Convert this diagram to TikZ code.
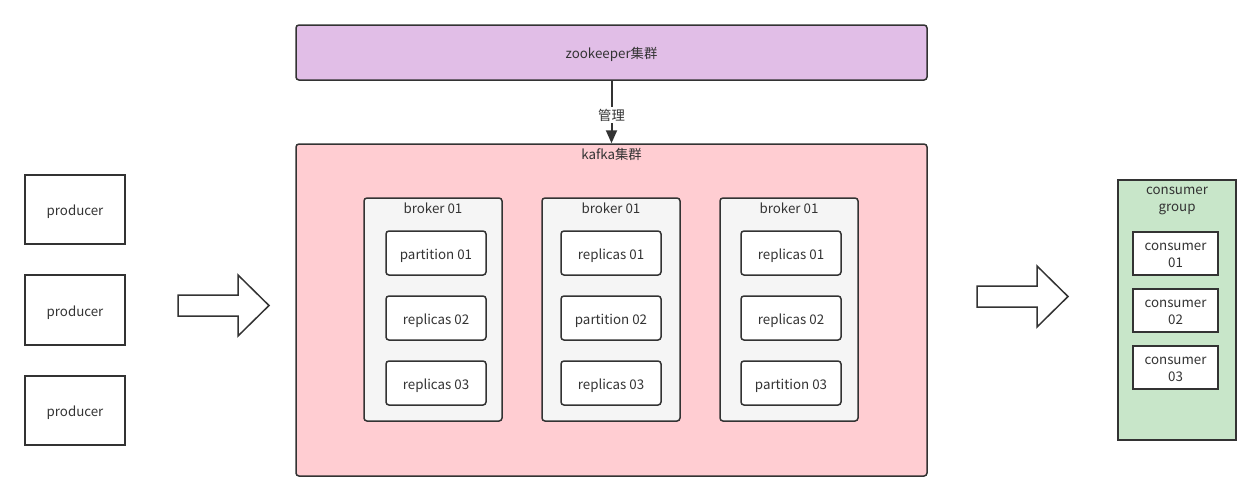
\documentclass[tikz,border=0pt]{standalone}
\usepackage{fontspec}
\setmainfont{Noto Sans CJK SC}
\usetikzlibrary{arrows.meta}
\definecolor{ink}{HTML}{333333}
\definecolor{zk}{HTML}{E1BEE7}
\definecolor{kf}{HTML}{FFCDD2}
\definecolor{bk}{HTML}{F5F5F5}
\definecolor{cg}{HTML}{C8E6C9}
\def\px{0.75pt}
\tikzset{
  box/.style={draw=ink, line width=1.5*\px, inner sep=0pt},
  rbox/.style={box, rounded corners=3*\px},
  sized/.style 2 args={minimum width=#1*\px, minimum height=#2*\px},
  tx/.style={text=ink, font=\fontsize{10}{12.6}\selectfont, inner sep=0pt, align=center},
  blockarrow/.style={draw=ink, line width=1.5*\px, fill=white, line join=miter}
}
\begin{document}
\begin{tikzpicture}[x=\px, y=-\px]
\useasboundingbox (0,0) rectangle (1257,501);
% producers
\node[box, sized={100}{69}] (p1) at (75,209.5) {};
\node[box, sized={100}{70}] (p2) at (75,310) {};
\node[box, sized={100}{69}] (p3) at (75,410.5) {};
\foreach \n in {p1,p2,p3}
  \node[tx] (\n t) at ([yshift=-2.5*\px]\n.center) {producer};
% zookeeper
\node[rbox, fill=zk, sized={631}{55}] (zk) at (611.5,52.5) {};
\node[tx] (zkt) at ([yshift=-2*\px]zk.center) {zookeeper集群};
% kafka
\node[rbox, fill=kf, sized={631}{332}] (kafka) at (611.5,310) {};
\node[tx, anchor=north] (kafkat) at (611.5,147.5) {kafka集群};
\draw[ink, line width=2*\px, -{Triangle[length=13*\px, width=11*\px]}] (zk.south) -- node[pos=0.55, fill=white, tx, inner sep=1.5pt] (mg) {管理} (kafka.north);
% brokers
\foreach \i/\x/\ix/\a/\b/\c in {1/433/436/partition 01/replicas 02/replicas 03,
                          2/611/611/replicas 01/partition 02/replicas 03,
                          3/789/791/replicas 01/replicas 02/partition 03}{
  \node[rbox, fill=bk, sized={138}{223}] (b\i) at (\x,309.5) {};
  \node[tx, anchor=north] (b\i t) at (\x,202.5) {broker 01};
  \node[rbox, fill=white, sized={100}{44}] (b\i p1) at (\ix,253) {};
  \node[rbox, fill=white, sized={100}{44}] (b\i p2) at (\ix,318) {};
  \node[rbox, fill=white, sized={100}{44}] (b\i p3) at (\ix,383) {};
  \node[tx] (b\i p1t) at ([yshift=-2.5*\px]b\i p1.center) {\a};
  \node[tx] (b\i p2t) at ([yshift=-2.5*\px]b\i p2.center) {\b};
  \node[tx] (b\i p3t) at ([yshift=-2.5*\px]b\i p3.center) {\c};
}
% consumer group
\node[box, fill=cg, sized={118}{260}] (cg) at (1177,310) {};
\node[tx, anchor=north] (cgt) at (1177,187) {consumer\\group};
\node[box, fill=white, sized={85}{43}] (c1) at (1175.5,253.5) {};
\node[box, fill=white, sized={85}{43}] (c2) at (1175.5,310.5) {};
\node[box, fill=white, sized={85}{43}] (c3) at (1175.5,367.5) {};
\foreach \n/\k in {c1/01,c2/02,c3/03}
  \node[tx] (\n t) at ([yshift=-2*\px]\n.center) {consumer\\\k};
% block arrows
\draw[blockarrow] (178,295) -- (238,295) -- (238,275) -- (269,305.5) -- (238,336) -- (238,316) -- (178,316) -- cycle;
\draw[blockarrow] (977,286) -- (1037,286) -- (1037,266) -- (1068,296.5) -- (1037,327) -- (1037,307) -- (977,307) -- cycle;
\end{tikzpicture}
\end{document}
